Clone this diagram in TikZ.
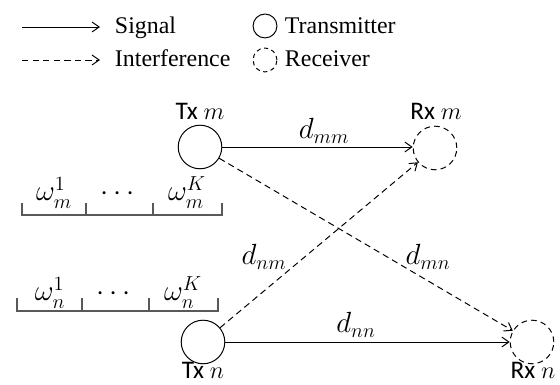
\documentclass[tikz,border=0pt]{standalone}
\usepackage{fontspec}
\setmainfont{Liberation Serif}
\newfontfamily\calfont{Carlito}
\usepackage{amsmath, amssymb}
\usetikzlibrary{arrows.meta}

\tikzset{
  txnode/.style={circle, draw, line width=0.7pt, minimum size=31pt, inner sep=0pt},
  rxnode/.style={txnode, dash pattern=on 4pt off 3pt},
  legnode/.style={circle, draw, line width=0.7pt, minimum size=17pt, inner sep=0pt},
  sigline/.style={line width=0.7pt, -{Straight Barb[length=5pt,width=7pt]}},
  intline/.style={sigline, dash pattern=on 4.5pt off 3pt},
  brkline/.style={line width=1pt, black!65},
  leglab/.style={anchor=base west, font=\fontsize{17}{20}\selectfont},
  lab/.style={inner sep=1pt, font=\fontsize{18}{20}\selectfont},
  mlab/.style={inner sep=0.5pt, font=\fontsize{21}{24}\selectfont},
}

\begin{document}
\begin{tikzpicture}[x=0.025cm, y=-0.025cm]
\useasboundingbox (0,0) rectangle (560,385);

% Legend
\coordinate (sigL) at (22,27);
\coordinate (sigR) at (100,27);
\draw[sigline] (sigL) -- (sigR);
\node[leglab] (sigtxt) at (110,34) {Signal};
\coordinate (intL) at (22,60);
\coordinate (intR) at (100,60);
\draw[intline] (intL) -- (intR);
\node[leglab] (inttxt) at (110,67) {Interference};
\node[legnode] (legtx) at (265,26) {};
\node[leglab] (txtxt) at (280,34) {Transmitter};
\node[legnode, dash pattern=on 3pt off 2.5pt] (legrx) at (265,60) {};
\node[leglab] (rxtxt) at (280,67) {Receiver};

% Transmitters and receivers
\node[txnode] (txm) at (200,147) {};
\node[rxnode] (rxm) at (435,148) {};
\node[txnode] (txn) at (203,342) {};
\node[rxnode] (rxn) at (532,342) {};
\node[lab] (txmlab) at (200,111) {\calfont Tx $m$};
\node[lab] (rxmlab) at (436,111) {\calfont Rx $m$};
\node[lab] (txnlab) at (203,370) {\calfont Tx $n$};
\node[lab] (rxnlab) at (533,370) {\calfont Rx $n$};

% Links
\draw[sigline] (txm) -- (rxm.west |- txm);
\draw[sigline] (txn) -- (rxn);
\draw[intline] (txm) -- (rxn);
\draw[intline] (txn) -- (rxm);
\node[mlab] (dmm) at (324,131) {$d_{mm}$};
\node[mlab] (dnn) at (356,325) {$d_{nn}$};
\node[mlab] (dnm) at (264,257) {$d_{nm}$};
\node[mlab] (dmn) at (428,257) {$d_{mn}$};

% Weights of Tx m
\draw[brkline] (22,203) -- (22,215) -- (222,215) -- (222,203);
\draw[brkline] (86,203) -- (86,215);
\draw[brkline] (153,203) -- (153,215);
\node[mlab, anchor=base] (wm1) at (54,201) {$\omega_m^1$};
\node[mlab, anchor=base] (wmdots) at (120,201) {$\cdots$};
\node[mlab, anchor=base] (wmK) at (187,201) {$\omega_m^K$};

% Weights of Tx n
\draw[brkline] (17,298) -- (17,311) -- (218,311) -- (218,298);
\draw[brkline] (82,298) -- (82,311);
\draw[brkline] (149,298) -- (149,311);
\node[mlab, anchor=base] (wn1) at (50,301) {$\omega_n^1$};
\node[mlab, anchor=base] (wndots) at (116,301) {$\cdots$};
\node[mlab, anchor=base] (wnK) at (183,301) {$\omega_n^K$};

\end{tikzpicture}
\end{document}
